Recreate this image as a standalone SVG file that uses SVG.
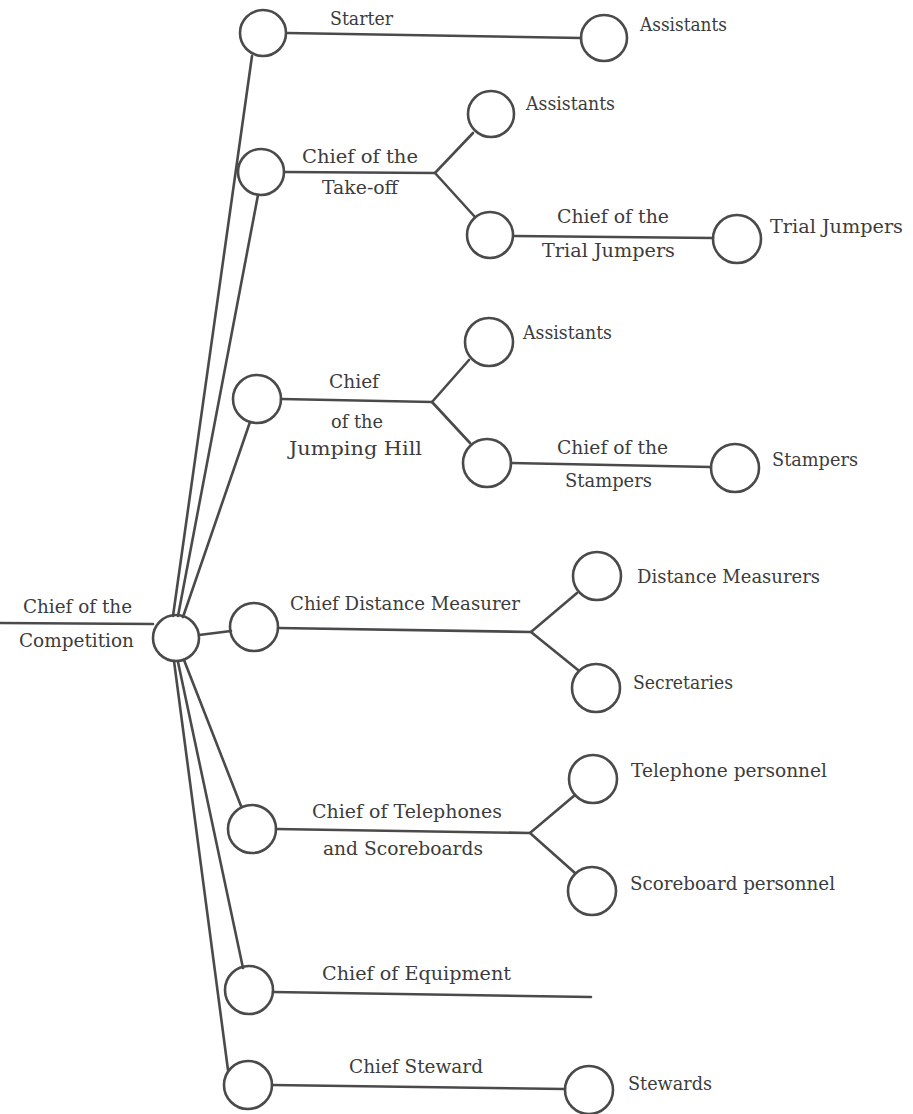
<svg xmlns="http://www.w3.org/2000/svg" width="913" height="1114" viewBox="0 0 913 1114">
<style>
.n{fill:none;stroke:#4a4a4a;stroke-width:2.6}
.c{fill:none;stroke:#4a4a4a;stroke-width:2.6;stroke-linecap:round}
.t{font-family:'DejaVu Serif','Liberation Serif',serif;font-size:18px;fill:#3c3c3c}
</style>
<rect width="913" height="1114" fill="#ffffff"/>
<g id="connectors">
<line class="c" x1="0" y1="623" x2="153" y2="624"/>
<line class="c" x1="173" y1="616" x2="252" y2="56"/>
<line class="c" x1="178" y1="616" x2="258" y2="195"/>
<line class="c" x1="183" y1="617" x2="250" y2="422"/>
<line class="c" x1="199" y1="635" x2="231" y2="631"/>
<line class="c" x1="184" y1="660" x2="241" y2="806"/>
<line class="c" x1="178" y1="662" x2="243" y2="968"/>
<line class="c" x1="174" y1="661" x2="228" y2="1070"/>
<line class="c" x1="287" y1="33" x2="581" y2="38"/>
<polyline class="c" points="285,172 435,173 473,133"/>
<line class="c" x1="435" y1="173" x2="475" y2="217"/>
<line class="c" x1="514" y1="236" x2="713" y2="238"/>
<polyline class="c" points="281,399 432,402 469,360"/>
<line class="c" x1="432" y1="402" x2="470" y2="443"/>
<line class="c" x1="511" y1="463" x2="711" y2="467"/>
<polyline class="c" points="278,628 531,632 577,593"/>
<line class="c" x1="531" y1="632" x2="578" y2="670"/>
<polyline class="c" points="276,829 530,833 575,795"/>
<line class="c" x1="530" y1="833" x2="575" y2="873"/>
<line class="c" x1="273" y1="992" x2="591" y2="997"/>
<line class="c" x1="272" y1="1085" x2="565" y2="1089"/>
</g>
<g class="t">
<g id="competition"><circle class="n" cx="176" cy="638" r="23"/><text x="23" y="613" textLength="109" lengthAdjust="spacingAndGlyphs">Chief of the</text><text x="19" y="647" textLength="115" lengthAdjust="spacingAndGlyphs">Competition</text></g>
<g id="starter"><circle class="n" cx="263" cy="33" r="23"/><text x="330" y="25" textLength="63" lengthAdjust="spacingAndGlyphs">Starter</text></g>
<g id="starter-assistants"><circle class="n" cx="604" cy="38" r="23"/><text x="640" y="31" textLength="87" lengthAdjust="spacingAndGlyphs">Assistants</text></g>
<g id="takeoff"><circle class="n" cx="261" cy="172" r="23"/><text x="302" y="163" textLength="116" lengthAdjust="spacingAndGlyphs">Chief of the</text><text x="322" y="194" textLength="76" lengthAdjust="spacingAndGlyphs">Take-off</text></g>
<g id="takeoff-assistants"><circle class="n" cx="491" cy="114" r="23"/><text x="526" y="110" textLength="89" lengthAdjust="spacingAndGlyphs">Assistants</text></g>
<g id="chief-trial"><circle class="n" cx="490" cy="235" r="23"/><text x="557" y="223" textLength="112" lengthAdjust="spacingAndGlyphs">Chief of the</text><text x="542" y="257" textLength="133" lengthAdjust="spacingAndGlyphs">Trial Jumpers</text></g>
<g id="trial-jumpers"><circle class="n" cx="737" cy="239" r="24"/><text x="770" y="233" textLength="133" lengthAdjust="spacingAndGlyphs">Trial Jumpers</text></g>
<g id="jumping-hill"><circle class="n" cx="257" cy="399" r="24"/><text x="329" y="388" textLength="50" lengthAdjust="spacingAndGlyphs">Chief</text><text x="331" y="428" textLength="52" lengthAdjust="spacingAndGlyphs">of the</text><text x="289" y="455" textLength="133" lengthAdjust="spacingAndGlyphs">Jumping  Hill</text></g>
<g id="hill-assistants"><circle class="n" cx="489" cy="342" r="24"/><text x="523" y="339" textLength="89" lengthAdjust="spacingAndGlyphs">Assistants</text></g>
<g id="chief-stampers"><circle class="n" cx="487" cy="463" r="24"/><text x="557" y="454" textLength="111" lengthAdjust="spacingAndGlyphs">Chief of the</text><text x="565" y="487" textLength="87" lengthAdjust="spacingAndGlyphs">Stampers</text></g>
<g id="stampers"><circle class="n" cx="735" cy="468" r="24"/><text x="772" y="466" textLength="86" lengthAdjust="spacingAndGlyphs">Stampers</text></g>
<g id="distance"><circle class="n" cx="254" cy="627" r="24"/><text x="290" y="610" textLength="230" lengthAdjust="spacingAndGlyphs">Chief Distance Measurer</text></g>
<g id="measurers"><circle class="n" cx="597" cy="576" r="24"/><text x="637" y="583" textLength="183" lengthAdjust="spacingAndGlyphs">Distance Measurers</text></g>
<g id="secretaries"><circle class="n" cx="596" cy="688" r="24"/><text x="633" y="689" textLength="100" lengthAdjust="spacingAndGlyphs">Secretaries</text></g>
<g id="telephones"><circle class="n" cx="252" cy="829" r="24"/><text x="312" y="818" textLength="190" lengthAdjust="spacingAndGlyphs">Chief of Telephones</text><text x="323" y="855" textLength="160" lengthAdjust="spacingAndGlyphs">and  Scoreboards</text></g>
<g id="telephone-personnel"><circle class="n" cx="593" cy="779" r="24"/><text x="631" y="777" textLength="196" lengthAdjust="spacingAndGlyphs">Telephone  personnel</text></g>
<g id="scoreboard-personnel"><circle class="n" cx="592" cy="891" r="24"/><text x="630" y="890" textLength="205" lengthAdjust="spacingAndGlyphs">Scoreboard  personnel</text></g>
<g id="equipment"><circle class="n" cx="249" cy="990" r="24"/><text x="322" y="980" textLength="189" lengthAdjust="spacingAndGlyphs">Chief of Equipment</text></g>
<g id="steward"><circle class="n" cx="248" cy="1085" r="24"/><text x="349" y="1073" textLength="134" lengthAdjust="spacingAndGlyphs">Chief Steward</text></g>
<g id="stewards"><circle class="n" cx="589" cy="1090" r="24"/><text x="628" y="1090" textLength="84" lengthAdjust="spacingAndGlyphs">Stewards</text></g>
</g>
</svg>
